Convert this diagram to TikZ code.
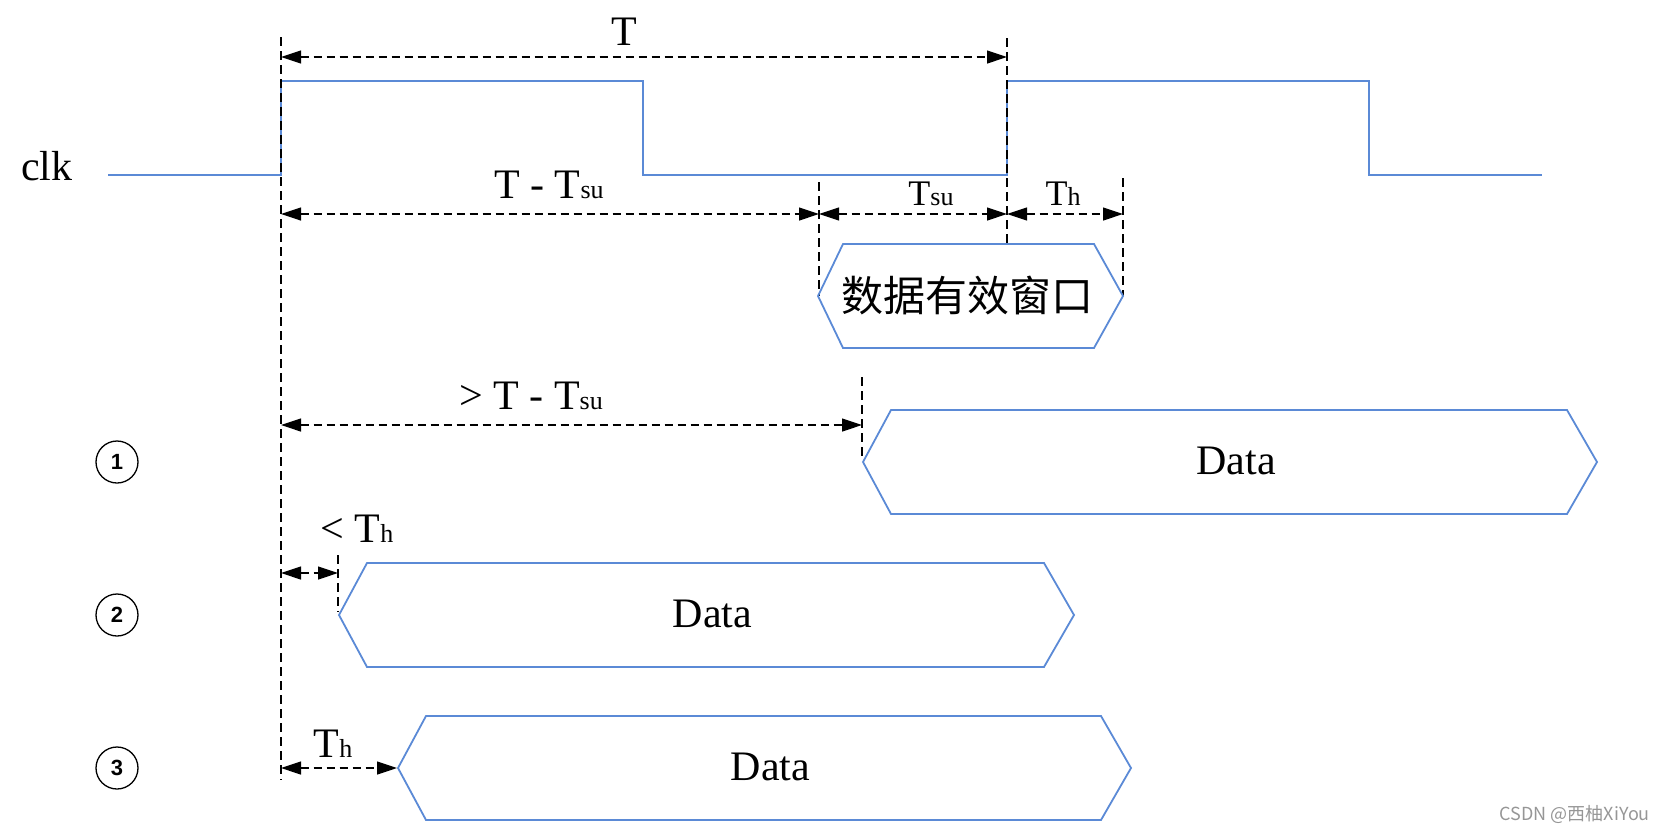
\documentclass[tikz,border=0pt]{standalone}
\usepackage{fontspec}
\setmainfont{Liberation Serif}
\newfontfamily\cjkfont{Noto Sans CJK SC}
\newfontfamily\numfont{Liberation Sans}
\usetikzlibrary{arrows.meta, positioning}
\definecolor{wavecol}{RGB}{91,138,214}
\definecolor{markgray}{RGB}{150,150,150}
\newcommand{\tsub}[1]{{\fontsize{26}{26}\selectfont #1}}

\begin{document}
\begin{tikzpicture}[x=1pt, y=-1pt,
  wave/.style={draw=wavecol, line width=1.8pt, line join=miter},
  guide/.style={dash pattern=on 9pt off 5pt, line width=1.2pt},
  dim/.style={{Triangle[length=20pt,width=13pt]}-{Triangle[length=20pt,width=13pt]},
    dash pattern=on 8pt off 5pt, line width=1.2pt},
  lbl/.style={anchor=base, inner sep=0pt, font=\fontsize{42}{42}\selectfont},
  small/.style={anchor=base, inner sep=0pt, font=\fontsize{36}{36}\selectfont},
  num/.style={circle, draw, line width=1.3pt, minimum size=42pt, inner sep=0pt,
    font=\numfont\bfseries\fontsize{22}{22}\selectfont}]
  \useasboundingbox (0,0) rectangle (1665,833);

  % clock
  \node[lbl] (clk) at (47,180) {clk};
  \draw[wave] (108,175) -- (281,175) -- (281,81) -- (643,81) -- (643,175)
    -- (1007,175) -- (1007,81) -- (1369,81) -- (1369,175) -- (1542,175);

  \coordinate (rise1) at (281,37);
  \coordinate (rise2) at (1007,38);
  \coordinate (su) at (819,182);
  \coordinate (hd) at (1123,178);
  \coordinate (d1) at (862,377);
  \coordinate (d2) at (338,555);
  \coordinate (d3) at (397,768);

  \draw[guide] (rise1) -- ++(0,743);
  \draw[guide] (rise2) -- ++(0,206);
  \draw[guide] (su) -- ++(0,114);
  \draw[guide] (hd) -- ++(0,118);
  \draw[guide] (d1) -- ++(0,83);
  \draw[guide] (d2) -- ++(0,57);

  \draw[dim] (rise1 |- 0,57) -- (rise2 |- 0,57);
  \node[lbl] (period) at (624,45) {T};
  \draw[dim] (rise1 |- 0,214) -- (su |- 0,214);
  \draw[dim] (su |- 0,214) -- (rise2 |- 0,214);
  \draw[dim] (rise2 |- 0,214) -- (hd |- 0,214);
  \node[lbl] (tmsu) at (549,198) {T - T\tsub{su}};
  \node[small] (tsu) at (931,205) {T\tsub{su}};
  \node[small] (th) at (1063,205) {T\tsub{h}};

  % data valid window
  \draw[wave] (818,296) -- (843,244) -- (1094,244) -- (1123,296) -- (1094,348)
    -- (843,348) -- cycle;
  \node[inner sep=0pt, font=\cjkfont\fontsize{42}{42}\selectfont] (win) at (967,295) {数据有效窗口};

  \draw[dim] (rise1 |- 0,425) -- (d1 |- 0,425);
  \node[lbl] (gtmsu) at (531,409) {> T - T\tsub{su}};
  \draw[dim] (rise1 |- 0,573) -- (d2 |- 0,573);
  \node[lbl] (lth) at (357,542) {< T\tsub{h}};
  \draw[dim] (rise1 |- d3) -- (d3);
  \node[lbl] (eqth) at (333,757) {T\tsub{h}};

  \foreach \i/\xl/\xr/\ym in {1/863/1597/462, 2/339/1074/615, 3/398/1131/768} {
    \draw[wave] (\xl,\ym) -- ++(28,-52) -- (\xr-30,\ym-52) -- (\xr,\ym)
      -- (\xr-30,\ym+52) -- (\xl+28,\ym+52) -- cycle;
    \node[lbl] (data\i) at ({(\xl+\xr)/2+6},\ym+12) {Data};
    \node[num] (n\i) at (117,\ym) {\i};
  }

  \node[anchor=base east, inner sep=0pt, text=markgray,
    font=\cjkfont\fontsize{18}{18}\selectfont] (mark) at (1650,820) {CSDN @西柚XiYou};
\end{tikzpicture}
\end{document}
